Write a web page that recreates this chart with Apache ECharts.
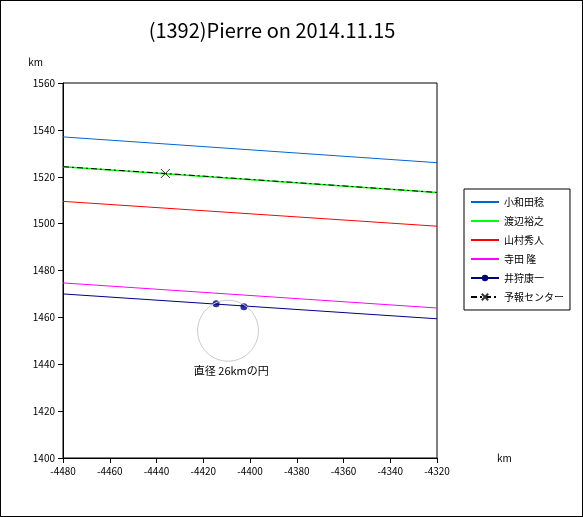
<!DOCTYPE html>
<html>
<head>
<meta charset="utf-8">
<script src="https://cdn.jsdelivr.net/npm/echarts@6/dist/echarts.min.js"></script>
<style>
  html, body { margin: 0; padding: 0; background: #fff; }
  #chart { width: 583px; height: 517px; box-sizing: border-box; border: 1px solid #000; }
</style>
</head>
<body>
<div id="chart"></div>
<script>
// chord endpoints [x, y] in km
const odaLine = [[-4480, 1537], [-4320, 1526]];
const watanabeLine = [[-4480, 1524.3], [-4320, 1513.3]];
const yamamuraLine = [[-4480, 1509.5], [-4320, 1498.9]];
const teradaLine = [[-4480, 1474.7], [-4320, 1464]];
const iikariLine = [[-4480, 1470], [-4320, 1459.4]];
const iikariPoints = [[-4414.5, 1465.8], [-4402.6, 1464.5]];
const forecastLine = [[-4480, 1524.3], [-4436.2, 1521.4], [-4320, 1513.3]];
const circleCenter = [-4409.4, 1454.3];
const circleRadius = 13;

// circle outline from center and radius
const circlePts = [];
for (let i = 0; i <= 72; i++) {
  const a = i / 72 * Math.PI * 2;
  circlePts.push([circleCenter[0] + circleRadius * Math.cos(a), circleCenter[1] + circleRadius * Math.sin(a)]);
}

const font = '"Noto Sans CJK JP", sans-serif';
const crossPath = 'path://M0,0L10,10M10,0L0,10';
const noDot = { opacity: 0 };

const chart = echarts.init(document.getElementById('chart'));
chart.setOption({
  animation: false,
  textStyle: { fontFamily: font },
  title: {
    text: '(1392)Pierre on 2014.11.15', left: 266, top: 14, textAlign: 'center',
    textStyle: { fontFamily: font, fontSize: 20, fontWeight: 'normal', color: '#000' }
  },
  grid: { left: 62, right: 145, top: 82, bottom: 58, show: true, borderColor: '#000', borderWidth: 1 },
  xAxis: {
    type: 'value', min: -4480, max: -4320, interval: 20,
    name: 'km', nameLocation: 'end', nameGap: 0,
    nameTextStyle: { fontSize: 10, color: '#000', padding: [70, 0, 0, 60] },
    axisLine: { lineStyle: { color: '#000' } },
    axisTick: { lineStyle: { color: '#000' } },
    axisLabel: { fontSize: 10, color: '#000', formatter: v => String(v) },
    splitLine: { show: false }
  },
  yAxis: {
    type: 'value', min: 1400, max: 1560, interval: 20,
    name: 'km', nameLocation: 'end', nameGap: 16,
    nameTextStyle: { fontSize: 10, color: '#000', align: 'right', padding: [0, 20, 0, 0] },
    axisLine: { show: true, lineStyle: { color: '#000' } },
    axisTick: { show: true, lineStyle: { color: '#000' } },
    axisLabel: { fontSize: 10, color: '#000', formatter: v => String(v) },
    splitLine: { show: false }
  },
  legend: {
    orient: 'vertical', left: 463, top: 188, width: 106,
    padding: [8, 6, 8, 6], itemGap: 9, itemWidth: 28, itemHeight: 8,
    borderColor: '#000', borderWidth: 1,
    textStyle: { fontSize: 10, color: '#000' },
    data: [
      { name: '小和田稔', itemStyle: noDot },
      { name: '渡辺裕之', itemStyle: noDot },
      { name: '山村秀人', itemStyle: noDot },
      { name: '寺田 隆', itemStyle: noDot },
      { name: '井狩康一' },
      { name: '予報センター' }
    ]
  },
  series: [
    { name: '小和田稔', type: 'line', data: odaLine, symbol: 'none', lineStyle: { color: '#0066cc', width: 1 }, itemStyle: { color: '#0066cc' } },
    { name: '渡辺裕之', type: 'line', data: watanabeLine, symbol: 'none', lineStyle: { color: '#00ff00', width: 1.5 }, itemStyle: { color: '#00ff00' } },
    { name: '山村秀人', type: 'line', data: yamamuraLine, symbol: 'none', lineStyle: { color: '#ff0000', width: 1 }, itemStyle: { color: '#ff0000' } },
    { name: '寺田 隆', type: 'line', data: teradaLine, symbol: 'none', lineStyle: { color: '#ff00ff', width: 1 }, itemStyle: { color: '#ff00ff' } },
    { name: '井狩康一', type: 'line', data: iikariLine, symbol: 'none', lineStyle: { color: '#000080', width: 1 }, itemStyle: { color: '#000080' } },
    { name: '井狩康一', type: 'scatter', data: iikariPoints, symbolSize: 7, itemStyle: { color: '#000080' } },
    {
      name: '予報センター', type: 'line',
      data: forecastLine.map((p, i) => i === 1 ? { value: p } : { value: p, symbol: 'none' }),
      symbol: crossPath, symbolSize: 9,
      lineStyle: { color: '#000', width: 1, type: [6, 3, 2, 3] },
      itemStyle: { color: 'rgba(0,0,0,0)', borderColor: '#333', borderWidth: 1 }
    },
    {
      type: 'line', data: circlePts, symbol: 'none', silent: true,
      lineStyle: { color: '#c8c8c8', width: 1 },
      markPoint: {
        symbol: 'circle', symbolSize: 0,
        label: { show: true, formatter: '直径 26kmの円', fontSize: 11, color: '#000' },
        data: [{ coord: [-4408, 1437] }]
      }
    }
  ]
});
</script>
</body>
</html>
